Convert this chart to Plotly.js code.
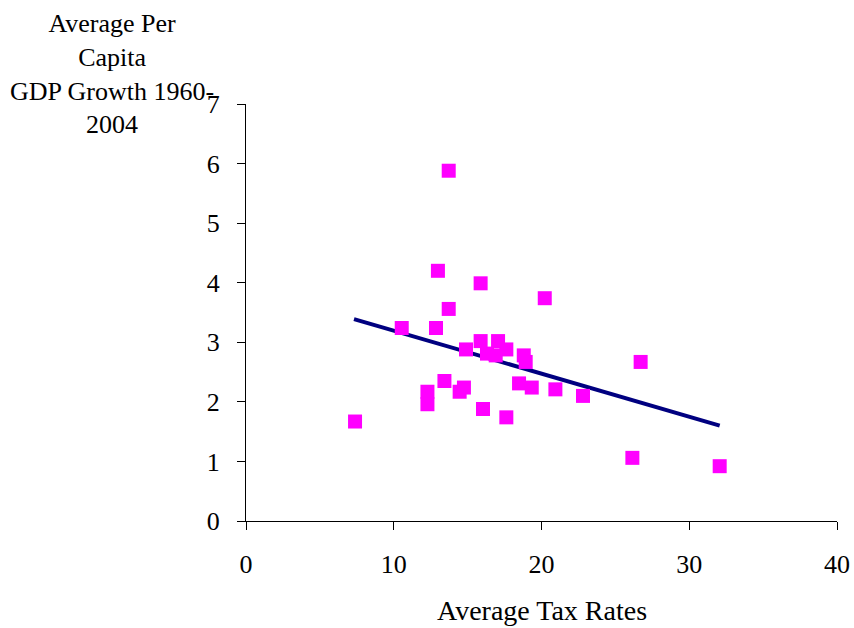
<!DOCTYPE html>
<html>
<head>
<meta charset="utf-8">
<script src="https://cdn.plot.ly/plotly-3.0.1.min.js"></script>
<style>html,body{margin:0;padding:0;background:#fff;}</style>
</head>
<body>
<div id="chart" style="width:854px;height:628px;"></div>
<script>
// Average tax rate (x) vs average per capita GDP growth 1960-2004 (y)
const taxRates = [13.72, 12.99, 15.88, 20.22, 13.72, 10.54, 12.86, 15.88, 17.06, 17.62,
                  14.89, 16.31, 16.90, 18.80, 18.93, 13.43, 14.75, 14.46, 18.48, 19.34,
                  20.94, 22.81, 12.28, 12.28, 16.04, 17.62, 7.38, 26.71, 26.15, 32.06];
const gdpGrowth = [5.88, 4.20, 3.99, 3.74, 3.56, 3.24, 3.24, 3.02, 3.02, 2.88,
                   2.88, 2.81, 2.78, 2.78, 2.67, 2.35, 2.24, 2.17, 2.31, 2.24,
                   2.21, 2.10, 2.17, 1.96, 1.88, 1.74, 1.67, 2.67, 1.06, 0.92];
// Linear trend line as drawn (endpoints)
const trendX = [7.31, 32.06];
const trendY = [3.39, 1.60];
const xTicks = [0, 10, 20, 30, 40];
const yTicks = [0, 1, 2, 3, 4, 5, 6, 7];
const xTitle = "Average Tax Rates";
const yTitle = "Average Per<br>Capita<br>GDP Growth 1960-<br>2004";

const font = "'Liberation Serif', 'Times New Roman', serif";

const traces = [
  {
    x: trendX, y: trendY, type: 'scatter', mode: 'lines',
    line: {color: '#000080', width: 4},
    hoverinfo: 'skip', showlegend: false
  },
  {
    x: taxRates, y: gdpGrowth, type: 'scatter', mode: 'markers',
    marker: {symbol: 'square', size: 14, color: '#FF00FF'},
    cliponaxis: false, showlegend: false
  }
];

const axisCommon = {
  showgrid: false, zeroline: false, showline: true,
  linecolor: '#000', linewidth: 1,
  ticks: 'outside', ticklen: 8, tickwidth: 1, tickcolor: '#000',
  tickfont: {family: font, size: 26, color: '#000'}
};

const layout = {
  width: 854, height: 628,
  margin: {l: 246, r: 17, t: 104, b: 107, pad: 0},
  paper_bgcolor: '#fff', plot_bgcolor: '#fff',
  showlegend: false,
  xaxis: Object.assign({}, axisCommon, {
    range: [0, 40], tickmode: 'array', tickvals: xTicks, ticktext: xTicks.map(String),
    ticklabelstandoff: 12
  }),
  yaxis: Object.assign({}, axisCommon, {
    range: [0, 7], tickmode: 'array', tickvals: yTicks, ticktext: yTicks.map(String),
    ticklabelstandoff: 12
  }),
  annotations: [
    {
      text: xTitle, xref: 'paper', yref: 'paper', x: 0.5, y: -0.215,
      xanchor: 'center', yanchor: 'middle', showarrow: false,
      font: {family: font, size: 28, color: '#000'}
    },
    {
      text: yTitle, xref: 'paper', yref: 'paper', x: -0.227, y: 1.0724,
      xanchor: 'center', yanchor: 'middle', align: 'center', showarrow: false,
      font: {family: font, size: 26, color: '#000'}
    }
  ]
};

Plotly.newPlot('chart', traces, layout, {displayModeBar: false, staticPlot: true});
</script>
</body>
</html>
